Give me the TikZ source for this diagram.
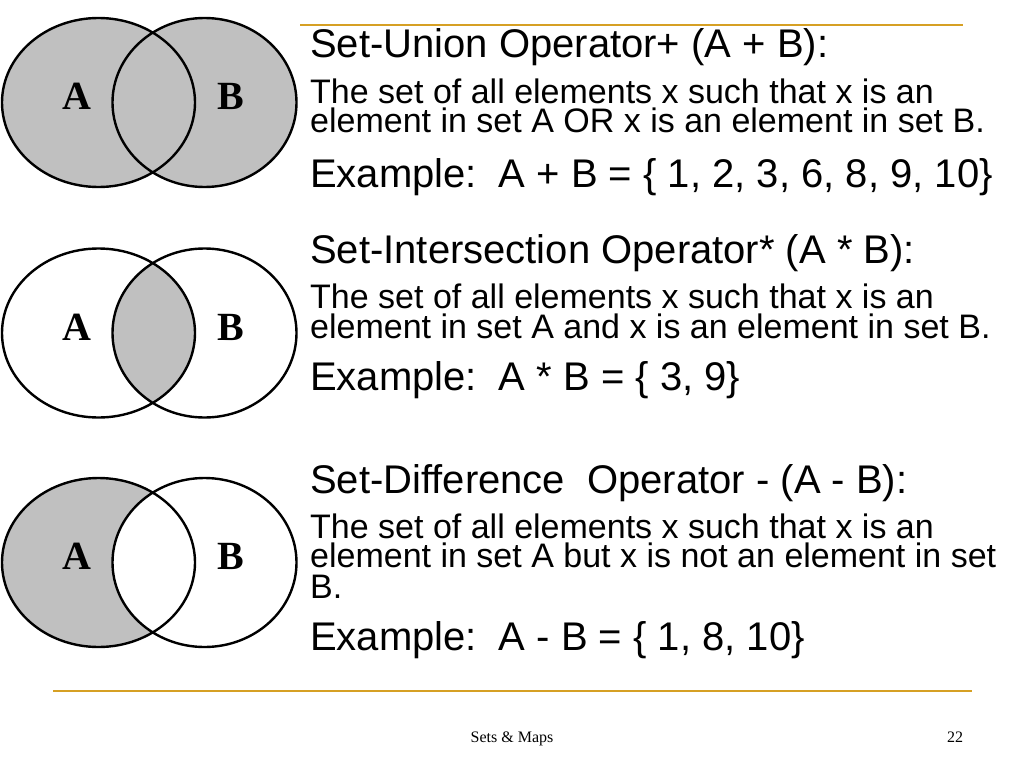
\documentclass[tikz,border=0pt]{standalone}
\usepackage{fontspec}
\setmainfont{Liberation Sans}
\newfontfamily\vennfont{Liberation Serif}
\newfontfamily\footfont{Liberation Serif}
\definecolor{rulegold}{RGB}{214,160,36}
\definecolor{setgray}{RGB}{192,192,192}

\begin{document}
\begin{tikzpicture}[x=1pt,y=-1pt,
	set line/.style	=	{draw=black,line width=2.4pt},
	set label/.style	=	{inner sep=0pt,font=\vennfont\bfseries\fontsize{40}{40}\selectfont},
	heading/.style	=	{anchor=base west,inner sep=0pt,font=\fontsize{40}{40}\selectfont},
	body/.style	=	{anchor=base west,inner sep=0pt,font=\fontsize{34}{34}\selectfont},
	footer/.style	=	{anchor=base,inner sep=0pt,font=\footfont\fontsize{16}{16}\selectfont},
	rule/.style	=	{draw=rulegold,line width=2.6pt}]

	\useasboundingbox (0,0) rectangle (1024,768);

	% union
	\begin{scope}[shift={(0,102.5)}]
		\coordinate (set A) at (98.5,0);
		\coordinate (set B) at (204.5,0);
		\fill[setgray] (set A) ellipse (96.5 and 84.5) (set B) ellipse (92 and 84.5);
		\draw[set line] (set A) ellipse (96.5 and 84.5) (set B) ellipse (92 and 84.5);
		\node[set label] (union A) at (77,-6) {A};
		\node[set label] (union B) at (231,-6) {B};
	\end{scope}

	% intersection
	\begin{scope}[shift={(0,333)}]
		\coordinate (set A) at (98.5,0);
		\coordinate (set B) at (204.5,0);
		\begin{scope}
			\clip (set A) ellipse (96.5 and 84.5);
			\fill[setgray] (set B) ellipse (92 and 84.5);
		\end{scope}
		\draw[set line] (set A) ellipse (96.5 and 84.5) (set B) ellipse (92 and 84.5);
		\node[set label] (inter A) at (77,-6) {A};
		\node[set label] (inter B) at (231,-6) {B};
	\end{scope}

	% difference
	\begin{scope}[shift={(0,562.5)}]
		\coordinate (set A) at (98.5,0);
		\coordinate (set B) at (204.5,0);
		\fill[setgray] (set A) ellipse (96.5 and 84.5);
		\fill[white] (set B) ellipse (92 and 84.5);
		\draw[set line] (set A) ellipse (96.5 and 84.5) (set B) ellipse (92 and 84.5);
		\node[set label] (diff A) at (77,-6) {A};
		\node[set label] (diff B) at (231,-6) {B};
	\end{scope}

	\node[heading] (union title) at (310,57) {Set-Union Operator+ (A + B):};
	\node[body] (union line1) at (310,103) {The set of all elements x such that x is an};
	\node[body] (union line2) at (310,132) {element in set A OR x is an element in set B.};
	\node[heading] (union example) at (310,187) {Example:\hspace{22pt}A + B = \{ 1, 2, 3, 6, 8, 9, 10\}};

	\node[heading] (inter title) at (310,263) {Set-Intersection Operator* (A * B):};
	\node[body] (inter line1) at (310,308) {The set of all elements x such that x is an};
	\node[body] (inter line2) at (310,338) {element in set A and x is an element in set B.};
	\node[heading] (inter example) at (310,390) {Example:\hspace{22pt}A * B = \{ 3, 9\}};

	\node[heading] (diff title) at (310,493) {Set-Difference\ \ Operator - (A - B):};
	\node[body] (diff line1) at (310,538) {The set of all elements x such that x is an};
	\node[body] (diff line2) at (310,567) {element in set A but x is not an element in set};
	\node[body] (diff line3) at (310,598) {B.};
	\node[heading] (diff example) at (310,650) {Example:\hspace{22pt}A - B = \{ 1, 8, 10\}};

	\coordinate (top left) at (300,25);
	\coordinate (top right) at (963,25);
	\coordinate (bottom left) at (53,691);
	\coordinate (bottom right) at (972,691);
	\draw[rule] (top left) -- (top right);
	\draw[rule] (bottom left) -- (bottom right);

	\node[footer] (footer title) at (512,742) {Sets \& Maps};
	\node[footer] (page number) at (955,742) {22};
\end{tikzpicture}
\end{document}
